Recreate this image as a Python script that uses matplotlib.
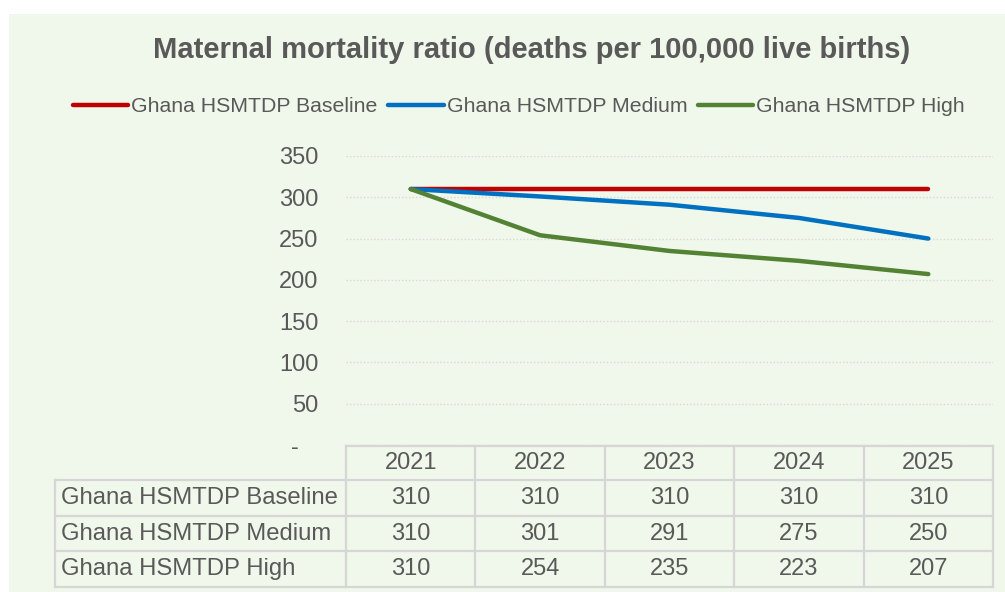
import matplotlib.pyplot as plt
from matplotlib.lines import Line2D
from matplotlib.patches import Rectangle
from matplotlib.transforms import Affine2D

# chart data
years = ["2021", "2022", "2023", "2024", "2025"]
series_names = ["Ghana HSMTDP Baseline", "Ghana HSMTDP Medium", "Ghana HSMTDP High"]
baseline = [310, 310, 310, 310, 310]
medium = [310, 301, 291, 275, 250]
high = [310, 254, 235, 223, 207]
colors = ["#C00000", "#0070C0", "#548235"]
yticks = [0, 50, 100, 150, 200, 250, 300, 350]
ytick_labels = ["-   ", "50", "100", "150", "200", "250", "300", "350"]

title = "Maternal mortality ratio (deaths per 100,000 live births)"
text_color = "#595959"
grid_color = "#D9D9D9"
bg_color = "#F0F7EB"

plt.rcParams["font.family"] = ["Liberation Sans", "DejaVu Sans"]

W, H = 1005, 592
fig = plt.figure(figsize=(W / 100, H / 100), dpi=100)
fig.patch.set_facecolor("white")

# pixel transform: origin at top-left of the figure
px = Affine2D().scale(1 / W, -1 / H).translate(0, 1) + fig.transFigure

fig.add_artist(Rectangle((9, 14), W - 9, H - 14, transform=px,
                         facecolor=bg_color, edgecolor="none", zorder=0))

# plot area
left, right, top, bottom = 346, 993, 156, 445
ax = fig.add_axes([left / W, 1 - bottom / H, (right - left) / W, (bottom - top) / H])
ax.set_facecolor("none")
for s in ax.spines.values():
    s.set_visible(False)

all_series = [baseline, medium, high]
x = list(range(len(years)))
for name, vals, c in zip(series_names, all_series, colors):
    ax.plot(x, vals, color=c, lw=3.2, solid_capstyle="round", label=name,
            clip_on=False, zorder=3)

ax.set_xlim(-0.5, len(years) - 0.5)
ax.set_ylim(0, 350)
ax.set_yticks(yticks)
ax.set_yticklabels(ytick_labels)
ax.set_xticks([])
ax.tick_params(axis="y", length=0, pad=20, labelsize=17, labelcolor=text_color)
ax.yaxis.grid(True, color=grid_color, linestyle=(0, (1, 1.5)), lw=1)
ax.set_axisbelow(True)

fig.text(532 / W, 1 - 50 / H, title, ha="center", va="center",
         fontsize=21, fontweight="bold", color=text_color)

fig.legend(loc="center", bbox_to_anchor=(519 / W, 1 - 107 / H), ncol=3,
           frameon=False, fontsize=15.3, labelcolor=text_color,
           handlelength=2.6, handletextpad=0.15, columnspacing=0.5)

# data table under the plot
row_tops = [446, 480, 516, 551, 587]
col_w = (right - left) / len(years)
col_edges = [left + i * col_w for i in range(len(years) + 1)]
label_left = 55
lc = "#D6D6D6"
lw = 1.6

def hline(x0, x1, y):
    fig.add_artist(Line2D([x0, x1], [y, y], transform=px, color=lc, lw=lw))

def vline(xx, y0, y1):
    fig.add_artist(Line2D([xx, xx], [y0, y1], transform=px, color=lc, lw=lw))

hline(left, right, row_tops[0])
for y in row_tops[1:]:
    hline(label_left, right, y)
vline(label_left, row_tops[1], row_tops[-1])
for xx in col_edges:
    vline(xx, row_tops[0], row_tops[-1])

for i, yr in enumerate(years):
    cx = (col_edges[i] + col_edges[i + 1]) / 2
    fig.text(cx / W, 1 - (row_tops[0] + row_tops[1]) / 2 / H, yr, ha="center",
             va="center", fontsize=17, color=text_color)

for r, (name, vals) in enumerate(zip(series_names, all_series)):
    cy = (row_tops[r + 1] + row_tops[r + 2]) / 2
    fig.text((label_left + 6) / W, 1 - cy / H, name, ha="left", va="center",
             fontsize=17.2, color=text_color)
    for i, v in enumerate(vals):
        cx = (col_edges[i] + col_edges[i + 1]) / 2
        fig.text(cx / W, 1 - cy / H, str(v), ha="center", va="center",
                 fontsize=17, color=text_color)

fig.savefig("out.png", dpi=100, facecolor=fig.get_facecolor())
